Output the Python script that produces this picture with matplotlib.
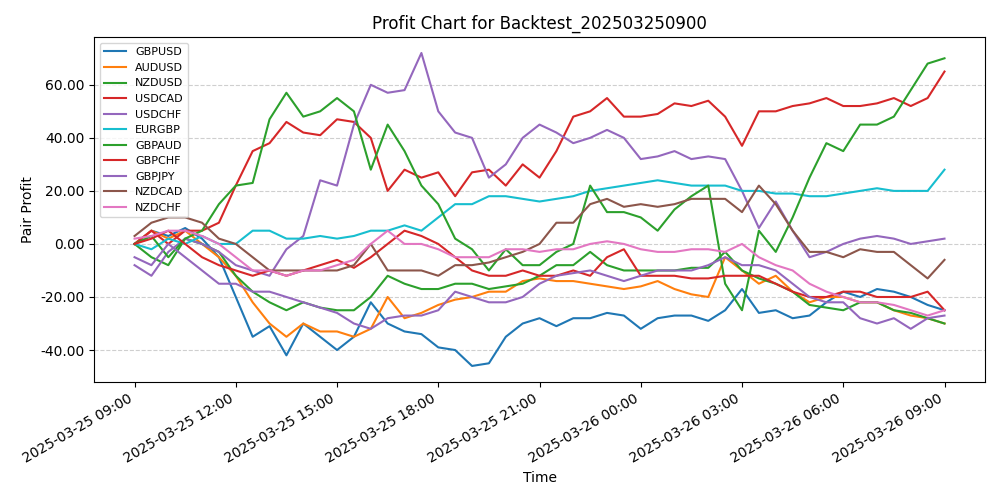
import matplotlib
matplotlib.use("Agg")
import matplotlib.pyplot as plt
import matplotlib.dates as mdates
from matplotlib.ticker import FormatStrFormatter
import pandas as pd

times = pd.date_range("2025-03-25 09:00", periods=49, freq="30min")

gbpusd = [0, 5, 3, 6, 2, -5, -20, -35, -31, -42, -30, -35, -40, -35, -22, -30, -33, -34, -39, -40, -46, -45, -35, -30,
          -28, -31, -28, -28, -26, -27, -32, -28, -27, -27, -29, -25, -17, -26, -25, -28, -27, -22, -18, -20, -17, -18,
          -20, -23, -25]
audusd = [0, 5, 2, 5, 0, -5, -12, -22, -30, -35, -30, -33, -33, -35, -32, -20, -28, -26, -23, -21, -20, -18, -18, -14,
          -13, -14, -14, -15, -16, -17, -16, -14, -17, -19, -20, -5, -10, -15, -12, -18, -22, -20, -20, -22, -22, -25,
          -27, -28, -30]
nzdusd = [0, -5, -8, 2, 0, -3, -12, -18, -22, -25, -22, -24, -25, -25, -20, -12, -15, -17, -17, -15, -15, -17, -16, -15,
          -12, -8, -8, -3, -8, -10, -10, -10, -10, -9, -9, -3, -10, -13, -15, -18, -23, -24, -25, -22, -22, -25, -26,
          -28, -30]
usdcad = [0, 5, 0, 5, 5, 8, 22, 35, 38, 46, 42, 41, 47, 46, 40, 20, 28, 25, 27, 18, 27, 28, 22, 30, 25, 35, 48, 50, 55,
          48, 48, 49, 53, 52, 54, 48, 37, 50, 50, 52, 53, 55, 52, 52, 53, 55, 52, 55, 65]
usdchf = [-8, -12, -3, 2, 0, -3, -8, -10, -12, -2, 3, 24, 22, 45, 60, 57, 58, 72, 50, 42, 40, 25, 30, 40, 45, 42, 38, 40,
          43, 40, 32, 33, 35, 32, 33, 32, 20, 6, 16, 5, -5, -3, 0, 2, 3, 2, 0, 1, 2]
eurgbp = [0, -2, 2, 0, 3, 0, 0, 5, 5, 2, 2, 3, 2, 3, 5, 5, 7, 5, 10, 15, 15, 18, 18, 17, 16, 17, 18, 20, 21, 22, 23, 24,
          23, 22, 22, 22, 20, 20, 19, 19, 18, 18, 19, 20, 21, 20, 20, 20, 28]
gbpaud = [0, 3, -5, 2, 5, 15, 22, 23, 47, 57, 48, 50, 55, 50, 28, 45, 35, 22, 15, 2, -2, -10, -2, -8, -8, -3, 0, 22, 12,
          12, 10, 5, 13, 18, 22, -15, -25, 5, -3, 10, 25, 38, 35, 45, 45, 48, 58, 68, 70]
gbpchf = [0, 2, 5, 0, -5, -8, -10, -12, -10, -12, -10, -8, -6, -9, -5, 0, 5, 3, 0, -5, -10, -12, -12, -10, -12, -12,
          -10, -12, -5, -2, -12, -12, -12, -13, -13, -12, -12, -12, -15, -18, -20, -20, -18, -18, -20, -20, -20, -18, -25]
gbpjpy = [-5, -8, 0, -5, -10, -15, -15, -18, -18, -20, -22, -24, -26, -30, -32, -28, -27, -27, -25, -18, -20, -22, -22,
          -20, -15, -12, -11, -10, -12, -14, -12, -10, -10, -10, -8, -5, -8, -8, -10, -15, -20, -22, -22, -28, -30, -28,
          -32, -28, -27]
nzdcad = [3, 8, 10, 10, 8, 2, 0, -5, -10, -10, -10, -10, -10, -8, 0, -10, -10, -10, -12, -8, -8, -7, -5, -3, 0, 8, 8,
          15, 17, 14, 15, 14, 15, 17, 17, 17, 12, 22, 15, 5, -3, -3, -5, -2, -3, -3, -8, -13, -6]
nzdchf = [2, 3, 5, 5, 3, 0, -5, -10, -10, -12, -10, -10, -8, -6, 0, 5, 0, 0, -2, -5, -5, -5, -2, -2, -3, -2, -2, 0, 1,
          0, -2, -3, -3, -2, -2, -3, 0, -5, -8, -10, -15, -18, -20, -22, -22, -23, -25, -27, -25]

series = [
    ("GBPUSD", gbpusd, "tab:blue"),
    ("AUDUSD", audusd, "tab:orange"),
    ("NZDUSD", nzdusd, "tab:green"),
    ("USDCAD", usdcad, "tab:red"),
    ("USDCHF", usdchf, "tab:purple"),
    ("EURGBP", eurgbp, "tab:cyan"),
    ("GBPAUD", gbpaud, "tab:green"),
    ("GBPCHF", gbpchf, "tab:red"),
    ("GBPJPY", gbpjpy, "tab:purple"),
    ("NZDCAD", nzdcad, "tab:brown"),
    ("NZDCHF", nzdchf, "tab:pink"),
]

fig, ax = plt.subplots(figsize=(10, 5), dpi=100)
for name, vals, color in series:
    ax.plot(times, vals, label=name, color=color, linewidth=1.5)

ax.set_title("Profit Chart for Backtest_202503250900")
ax.set_xlabel("Time")
ax.set_ylabel("Pair Profit")
ax.yaxis.set_major_formatter(FormatStrFormatter("%.2f"))
ax.xaxis.set_major_locator(mdates.HourLocator(byhour=[0, 3, 6, 9, 12, 15, 18, 21]))
ax.xaxis.set_major_formatter(mdates.DateFormatter("%Y-%m-%d %H:%M"))
ax.grid(axis="y", linestyle="--", alpha=0.6)
ax.legend(loc="upper left", fontsize=8)
fig.autofmt_xdate()
fig.tight_layout()
fig.savefig("out.png")
